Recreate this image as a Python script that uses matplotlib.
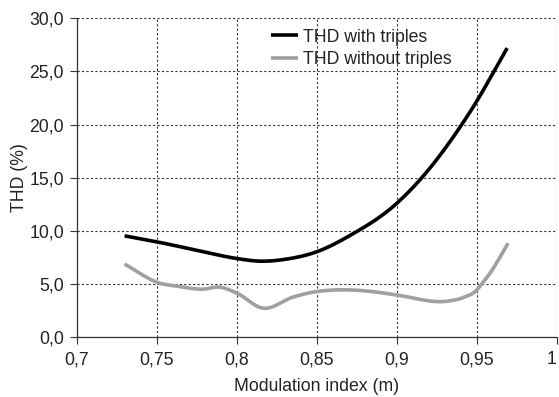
import matplotlib
matplotlib.use("Agg")
import matplotlib.pyplot as plt
import numpy as np

plt.rcParams['font.family'] = ['Liberation Sans', 'DejaVu Sans']

# THD with triple harmonics
m_with = [0.730, 0.750, 0.775, 0.800, 0.8146, 0.831, 0.850, 0.871,
          0.900, 0.9156, 0.9406, 0.950, 0.960, 0.969]
thd_with = [9.55, 8.99, 8.20, 7.42, 7.17, 7.36, 8.05, 9.60,
            12.60, 15.00, 20.00, 22.20, 24.80, 27.20]

# THD without triple harmonics
m_without = [0.730, 0.752, 0.7627, 0.779, 0.7896, 0.8002, 0.8165, 0.8352,
             0.8477, 0.860, 0.8877, 0.9002, 0.9333, 0.9416, 0.950, 0.953,
             0.9583, 0.9696]
thd_without = [6.89, 5.10, 4.82, 4.54, 4.73, 4.16, 2.75, 3.79,
               4.26, 4.45, 4.26, 3.98, 3.44, 3.75, 4.45, 5.00,
               6.04, 8.86]

x_ticks = [0.7, 0.75, 0.8, 0.85, 0.9, 0.95, 1.0]
x_labels = ["0,7", "0,75", "0,8", "0,85", "0,9", "0,95", "1"]
y_ticks = [0, 5, 10, 15, 20, 25, 30]
y_labels = ["0,0", "5,0", "10,0", "15,0", "20,0", "25,0", "30,0"]


def smooth_line(xs, ys, n=30):
    """Smoothed line: cubic Hermite through every point, central-difference slopes."""
    x = np.asarray(xs, float)
    y = np.asarray(ys, float)
    d = np.diff(y) / np.diff(x)
    h = np.diff(x)
    s = np.empty_like(y)
    s[0], s[-1] = d[0], d[-1]
    # weighted average of neighbouring secants
    s[1:-1] = (d[:-1] * h[1:] + d[1:] * h[:-1]) / (h[:-1] + h[1:])
    xo, yo = [], []
    for i in range(len(x) - 1):
        t = np.linspace(0, 1, n)
        if i > 0:
            t = t[1:]
        h00 = 2 * t**3 - 3 * t**2 + 1
        h10 = t**3 - 2 * t**2 + t
        h01 = -2 * t**3 + 3 * t**2
        h11 = t**3 - t**2
        xo.append(x[i] + t * h[i])
        yo.append(h00 * y[i] + h10 * h[i] * s[i] + h01 * y[i + 1] + h11 * h[i] * s[i + 1])
    return np.concatenate(xo), np.concatenate(yo)


FS = 12.7

fig = plt.figure(figsize=(5.59, 3.97), dpi=100)
ax = fig.add_axes([0.137, 0.150, 0.859, 0.804])

xw, yw = smooth_line(m_with, thd_with)
xo, yo = smooth_line(m_without, thd_without)
ax.plot(xw, yw, color="#000000", lw=2.6, label="THD with triples",
        solid_capstyle="butt", solid_joinstyle="round")
ax.plot(xo, yo, color="#a0a0a0", lw=2.6, label="THD without triples",
        solid_capstyle="butt", solid_joinstyle="round")

ax.set_xlim(0.7, 1.0)
ax.set_ylim(0, 30)
ax.set_xticks(x_ticks)
ax.set_xticklabels(x_labels)
ax.set_yticks(y_ticks)
ax.set_yticklabels(y_labels)
ax.tick_params(axis="both", labelsize=FS, direction="out", length=5,
               width=0.8, color="#333333", labelcolor="#222222")
ax.tick_params(axis="x", pad=5)
ax.tick_params(axis="y", pad=4)
ax.get_xticklabels()[-1].set_horizontalalignment("right")

ax.grid(True, color="#333333", linestyle=(0, (2, 2)), linewidth=0.8)
ax.set_axisbelow(True)
for s in ("top", "right"):
    ax.spines[s].set_visible(False)
for s in ("left", "bottom"):
    ax.spines[s].set_color("#333333")
    ax.spines[s].set_linewidth(0.9)

ax.set_xlabel("Modulation index (m)", fontsize=FS, color="#222222", labelpad=7)
ax.set_ylabel("THD (%)", fontsize=FS, color="#222222", labelpad=1)

leg = ax.legend(loc="upper left", bbox_to_anchor=(0.39, 0.99), frameon=False,
                fontsize=FS, handlelength=1.55, handletextpad=0.28,
                labelspacing=0.3, borderaxespad=0)
for t in leg.get_texts():
    t.set_color("#222222")

fig.savefig("out.png", dpi=100, facecolor="white")
